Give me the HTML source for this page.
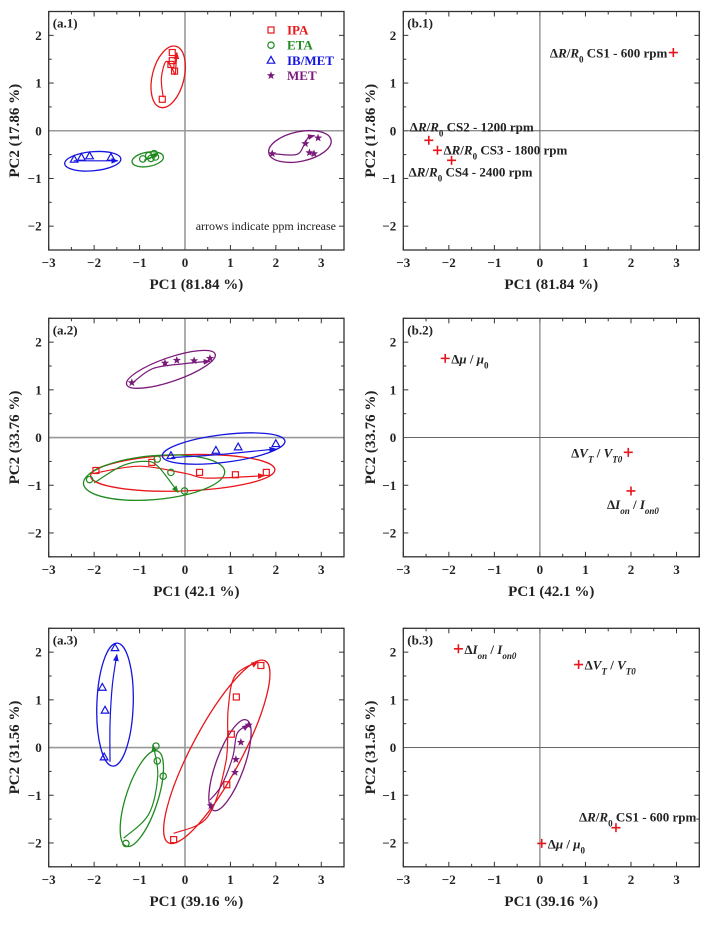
<!DOCTYPE html>
<html><head><meta charset="utf-8"><title>PCA panels</title>
<style>
html,body{margin:0;padding:0;background:#fff;}
svg, svg text{font-family:"Liberation Serif","Times New Roman",serif;}
.tick{font-family:"Liberation Serif",serif;font-size:13px;font-weight:bold;fill:#222;}
.ttl{font-family:"Liberation Serif",serif;font-size:15px;font-weight:bold;fill:#222;}
.lbl{font-family:"Liberation Serif",serif;font-size:13px;font-weight:bold;fill:#222;}
</style></head>
<body>
<svg id="chart" width="712" height="920" viewBox="0 0 712 920" xmlns="http://www.w3.org/2000/svg" font-family="Liberation Serif, serif">
<defs>
<marker id="ah-red" viewBox="0 0 10 10" refX="9" refY="5" markerWidth="6" markerHeight="6" orient="auto"><path d="M0,1 L10,5 L0,9 z" fill="#e8161b"/></marker>
<marker id="ah-green" viewBox="0 0 10 10" refX="9" refY="5" markerWidth="6" markerHeight="6" orient="auto"><path d="M0,1 L10,5 L0,9 z" fill="#1f8a1f"/></marker>
<marker id="ah-blue" viewBox="0 0 10 10" refX="9" refY="5" markerWidth="6" markerHeight="6" orient="auto"><path d="M0,1 L10,5 L0,9 z" fill="#1515e0"/></marker>
<marker id="ah-purple" viewBox="0 0 10 10" refX="9" refY="5" markerWidth="6" markerHeight="6" orient="auto"><path d="M0,1 L10,5 L0,9 z" fill="#7a1a7a"/></marker>
</defs>
</svg>
<script>
// ---------- data ----------
const xTicks = [-3,-2,-1,0,1,2,3];
const yTicks = [-2,-1,0,1,2];
const xTitles = ['PC1 (81.84 %)','PC1 (42.1 %)','PC1 (39.16 %)'];
const yTitles = ['PC2 (17.86 %)','PC2 (33.76 %)','PC2 (31.56 %)'];
const groups = ['IPA','ETA','IB/MET','MET'];

// a.1 scores
const a1_IPA_x = [-0.28,-0.28,-0.31,-0.23,-0.50];
const a1_IPA_y = [1.64,1.47,1.39,1.25,0.66];
const a1_ETA_x = [-0.93,-0.80,-0.75,-0.68,-0.65];
const a1_ETA_y = [-0.59,-0.52,-0.58,-0.48,-0.55];
const a1_IB_x = [-2.44,-2.28,-2.10,-1.63];
const a1_IB_y = [-0.60,-0.56,-0.53,-0.56];
const a1_MET_x = [1.92,2.65,2.93,2.74,2.84];
const a1_MET_y = [-0.48,-0.27,-0.15,-0.46,-0.48];
// a.2 scores
const a2_IPA_x = [-1.96,-0.73,0.32,1.11,1.79];
const a2_IPA_y = [-0.69,-0.52,-0.73,-0.78,-0.73];
const a2_ETA_x = [-2.10,-0.61,-0.31,-0.01];
const a2_ETA_y = [-0.88,-0.45,-0.73,-1.12];
const a2_IB_x = [-0.31,0.68,1.17,2.00];
const a2_IB_y = [-0.38,-0.27,-0.20,-0.13];
const a2_MET_x = [-1.17,-0.44,-0.18,0.20,0.55];
const a2_MET_y = [1.15,1.56,1.62,1.61,1.66];
// a.3 scores
const a3_IPA_x = [-0.25,0.92,1.02,1.13,1.67];
const a3_IPA_y = [-1.93,-0.78,0.28,1.06,1.72];
const a3_ETA_x = [-1.30,-0.64,-0.61,-0.48];
const a3_ETA_y = [-2.01,0.03,-0.28,-0.60];
const a3_IB_x = [-1.54,-1.82,-1.76,-1.78];
const a3_IB_y = [2.09,1.26,0.78,-0.20];
const a3_MET_x = [0.57,1.10,1.12,1.23,1.40];
const a3_MET_y = [-1.22,-0.52,-0.25,0.11,0.47];

// confidence ellipses [cx, cy, rx, ry, rotationDeg] per group IPA,ETA,IB,MET
const a1_ell = [[-0.37,1.13,0.35,0.66,14],[-0.82,-0.60,0.35,0.15,-10],[-2.03,-0.64,0.62,0.20,-5],[2.53,-0.33,0.70,0.31,-12]];
const a2_ell = [[-0.05,-0.74,2.03,0.38,-2],[-0.68,-0.84,1.56,0.46,-5],[0.85,-0.23,1.36,0.29,-7],[-0.31,1.43,1.03,0.25,-19]];
const a3_ell = [[0.70,-0.09,0.55,2.16,28],[-0.95,-1.07,0.35,1.05,18],[-1.54,0.90,0.40,1.29,2],[0.99,-0.37,0.31,1.01,20]];

// ppm-increase arrow paths (x list, y list) per group
const a1_arrX = [[-0.48,-0.52,-0.42,-0.28,-0.22,-0.20,-0.18],[-0.90,-0.75,-0.60],[-2.45,-1.95,-1.48],[1.92,2.45,2.62,2.72,2.85]];
const a1_arrY = [[0.70,1.10,1.45,1.30,1.18,1.35,1.64],[-0.62,-0.56,-0.47],[-0.63,-0.63,-0.63],[-0.48,-0.50,-0.30,-0.13,-0.10]];
const a2_arrX = [[-2.0,-1.0,0.0,0.5,1.75],[-2.0,-1.4,-0.9,-0.6,-0.15],[-0.30,0.70,2.0],[-1.15,-0.70,0.0,0.55]];
const a2_arrY = [[-0.75,-0.60,-0.75,-0.85,-0.80],[-0.95,-0.60,-0.50,-0.60,-1.15],[-0.42,-0.36,-0.24],[1.15,1.45,1.55,1.60]];
const a3_arrX = [[-0.25,0.50,0.90,0.95,1.10,1.60],[-1.35,-0.80,-0.60,-0.70],[-1.65,-1.65,-1.60,-1.50],[0.55,0.80,1.05,1.15,1.40]];
const a3_arrY = [[-1.80,-1.45,-0.30,0.80,1.50,1.80],[-1.90,-1.40,-0.60,0.05],[-0.30,0.50,1.30,1.95],[-1.10,-0.80,-0.20,0.30,0.48]];

// loadings
const b1_x = [2.93,-2.44,-2.25,-1.94];
const b1_y = [1.64,-0.20,-0.41,-0.62];
const b2_x = [-2.08,1.94,2.00];
const b2_y = [1.66,-0.31,-1.12];
const b3_x = [-1.79,0.85,1.67,0.04];
const b3_y = [2.07,1.74,-1.68,-2.01];
const RR = 'Δ<tspan font-style="italic">R</tspan>/<tspan font-style="italic">R</tspan><tspan baseline-shift="sub" font-size="9">0</tspan>';
const MU = 'Δ<tspan font-style="italic">μ</tspan> / <tspan font-style="italic">μ</tspan><tspan baseline-shift="sub" font-size="9">0</tspan>';
const VT = 'Δ<tspan font-style="italic">V</tspan><tspan baseline-shift="sub" font-size="9" font-style="italic">T</tspan> / <tspan font-style="italic">V</tspan><tspan baseline-shift="sub" font-size="9" font-style="italic">T0</tspan>';
const ION = 'Δ<tspan font-style="italic">I</tspan><tspan baseline-shift="sub" font-size="9" font-style="italic">on</tspan> / <tspan font-style="italic">I</tspan><tspan baseline-shift="sub" font-size="9" font-style="italic">on0</tspan>';
const b1_lab = [RR+' CS1 - 600 rpm', RR+' CS2 - 1200 rpm', RR+' CS3 - 1800 rpm', RR+' CS4 - 2400 rpm'];
const b2_lab = [MU, VT, ION];
const b3_lab = [ION, VT, RR+' CS1 - 600 rpm', MU];
// label placement [dx, dy, anchor]
const b1_pos = [[-6,5,'end'],[-19,-9,'start'],[6,4,'start'],[-43,16,'start']];
const b2_pos = [[6,5,'start'],[-6,5,'end'],[-24,18,'start']];
const b3_pos = [[6,5,'start'],[6,5,'start'],[-37,-6,'start'],[6,5,'start']];

// ---------- drawing ----------
const svg = document.getElementById('chart');
const NS = 'http://www.w3.org/2000/svg';
const COLORS = ['#e8161b','#1f8a1f','#1515e0','#7a1a7a'];
const AH = ['ah-red','ah-green','ah-blue','ah-purple'];
function el(tag, attrs, name, parent){
  const e = document.createElementNS(NS, tag);
  for (const k in attrs) e.setAttribute(k, attrs[k]);
  if (tag==='text') e.setAttribute('font-family', 'Liberation Serif, serif');
  
  
  (parent||svg).appendChild(e);
  return e;
}
function makeAxes(x0,y0,w,h){
  return {X:v=>x0+(v+3)/6.5*w, Y:v=>y0+(2.5-v)/5*h, x0,y0,w,h, sx:w/6.5, sy:h/5};
}
function frame(ax, tag, xt, yt, zeroCol, zeroW, ytx){
  const g = el('g',{},'panel-'+tag);
  for (let v=-3; v<=3.5; v+=0.5){
    const major = Number.isInteger(v); const L = major?5:3; const x=ax.X(v);
    el('line',{x1:x,x2:x,y1:ax.y0+ax.h,y2:ax.y0+ax.h-L,stroke:'#333','stroke-width':1},'x-tick',g);
    el('line',{x1:x,x2:x,y1:ax.y0,y2:ax.y0+L,stroke:'#333','stroke-width':1},'x-tick-top',g);
  }
  for (let v=-2.5; v<=2.5; v+=0.5){
    const major = Number.isInteger(v); const L = major?5:3; const y=ax.Y(v);
    el('line',{x1:ax.x0,x2:ax.x0+L,y1:y,y2:y,stroke:'#333','stroke-width':1},'y-tick',g);
    el('line',{x1:ax.x0+ax.w,x2:ax.x0+ax.w-L,y1:y,y2:y,stroke:'#333','stroke-width':1},'y-tick-right',g);
  }
  xTicks.forEach(v=>{
    const t = el('text',{x:ax.X(v),y:ax.y0+ax.h+17,'text-anchor':'middle',class:'tick'},'x-tick-label',g);
    t.textContent = v<0?'−'+(-v):String(v);
  });
  yTicks.forEach(v=>{
    const t = el('text',{x:ax.x0-7,y:ax.Y(v)+4.5,'text-anchor':'end',class:'tick'},'y-tick-label',g);
    t.textContent = v<0?'−'+(-v):String(v);
  });
  el('line',{x1:ax.X(0),x2:ax.X(0),y1:ax.y0,y2:ax.y0+ax.h,stroke:zeroCol,'stroke-width':zeroW},'zero-line-x',g);
  el('line',{x1:ax.x0,x2:ax.x0+ax.w,y1:ax.Y(0),y2:ax.Y(0),stroke:zeroCol,'stroke-width':zeroW},'zero-line-y',g);
  el('rect',{x:ax.x0,y:ax.y0,width:ax.w,height:ax.h,fill:'none',stroke:'#333','stroke-width':1.3},'plot-frame',g);
  const xt_ = el('text',{x:ax.x0+ax.w/2,y:ax.y0+ax.h+39,'text-anchor':'middle',class:'ttl'},'x-axis-title',g);
  xt_.textContent = xt;
  const cy = ax.y0+ax.h/2;
  const yt_ = el('text',{x:ytx,y:cy,'text-anchor':'middle',class:'ttl',transform:'rotate(-90 '+ytx+' '+cy+')','dominant-baseline':'central'},'y-axis-title',g);
  yt_.textContent = yt;
  const pl = el('text',{x:ax.x0+4,y:ax.y0+16,class:'lbl'},'panel-label',g);
  pl.textContent = '('+tag+')';
  return g;
}
function marker(g, gi, px, py){
  const c = COLORS[gi];
  if (gi===0) el('rect',{x:px-3,y:py-3,width:6,height:6,fill:'none',stroke:c,'stroke-width':1.2},'marker-ipa',g);
  else if (gi===1) el('circle',{cx:px,cy:py,r:3.2,fill:'none',stroke:c,'stroke-width':1.2},'marker-eta',g);
  else if (gi===2) el('path',{d:`M${px},${py-4} L${px+3.8},${py+2.8} L${px-3.8},${py+2.8} Z`,fill:'none',stroke:c,'stroke-width':1.2},'marker-ibmet',g);
  else {
    let d=''; for(let k=0;k<10;k++){const r=k%2?1.8:4.3; const a=-Math.PI/2+k*Math.PI/5; d+=(k?'L':'M')+(px+r*Math.cos(a)).toFixed(2)+','+(py+r*Math.sin(a)).toFixed(2);} 
    el('path',{d:d+'Z',fill:c,stroke:'none'},'marker-met',g);
  }
}
function smooth(pts){
  let d = `M${pts[0][0]},${pts[0][1]}`;
  for (let i=0;i<pts.length-1;i++){
    const p0=pts[Math.max(0,i-1)], p1=pts[i], p2=pts[i+1], p3=pts[Math.min(pts.length-1,i+2)];
    const c1=[p1[0]+(p2[0]-p0[0])/6, p1[1]+(p2[1]-p0[1])/6];
    const c2=[p2[0]-(p3[0]-p1[0])/6, p2[1]-(p3[1]-p1[1])/6];
    d += ` C${c1[0]},${c1[1]} ${c2[0]},${c2[1]} ${p2[0]},${p2[1]}`;
  }
  return d;
}
function scorePanel(ax, tag, xs, ys, ells, arrX, arrY){
  const g = el('g',{},'scores-'+tag);
  ells.forEach((e,gi)=>{
    const cx=ax.X(e[0]), cy=ax.Y(e[1]);
    el('ellipse',{cx:cx,cy:cy,rx:e[2]*ax.sx,ry:e[3]*ax.sy,transform:`rotate(${e[4]} ${cx} ${cy})`,fill:'none',stroke:COLORS[gi],'stroke-width':1.3},'confidence-ellipse-'+groups[gi].toLowerCase().replace('/',''),g);
  });
  arrX.forEach((xsA,gi)=>{
    const pts = xsA.map((v,i)=>[ax.X(v),ax.Y(arrY[gi][i])]);
    el('path',{d:smooth(pts),fill:'none',stroke:COLORS[gi],'stroke-width':1.2,'marker-end':`url(#${AH[gi]})`},'ppm-arrow-'+groups[gi].toLowerCase().replace('/',''),g);
  });
  xs.forEach((arr,gi)=>{
    arr.forEach((v,i)=>marker(g,gi,ax.X(v),ax.Y(ys[gi][i])));
  });
}
function loadPanel(ax, tag, xs, ys, labs, pos){
  const g = el('g',{},'loadings-'+tag);
  xs.forEach((v,i)=>{
    const px=ax.X(v), py=ax.Y(ys[i]);
    el('path',{d:`M${px-4.5},${py} H${px+4.5} M${px},${py-4.5} V${py+4.5}`,stroke:'#e8161b','stroke-width':1.6,fill:'none'},'loading-point',g);
    const t = el('text',{x:px+pos[i][0],y:py+pos[i][1],'text-anchor':pos[i][2],class:'lbl'},'loading-label',g);
    t.innerHTML = labs[i];
  });
}
const rows=[11.5,318.3,628.3], H=238.5;
const A=[], B=[];
rows.forEach((y0,r)=>{
  A.push(makeAxes(48.7,y0,295.3,H));
  B.push(makeAxes(403.3,y0,296,H));
  frame(A[r],'a.'+(r+1),xTitles[r],yTitles[r],'#999',1.6,15);
  frame(B[r],'b.'+(r+1),xTitles[r],yTitles[r],'#666',1,371);
});
scorePanel(A[0],'a.1',[a1_IPA_x,a1_ETA_x,a1_IB_x,a1_MET_x],[a1_IPA_y,a1_ETA_y,a1_IB_y,a1_MET_y],a1_ell,a1_arrX,a1_arrY);
scorePanel(A[1],'a.2',[a2_IPA_x,a2_ETA_x,a2_IB_x,a2_MET_x],[a2_IPA_y,a2_ETA_y,a2_IB_y,a2_MET_y],a2_ell,a2_arrX,a2_arrY);
scorePanel(A[2],'a.3',[a3_IPA_x,a3_ETA_x,a3_IB_x,a3_MET_x],[a3_IPA_y,a3_ETA_y,a3_IB_y,a3_MET_y],a3_ell,a3_arrX,a3_arrY);
loadPanel(B[0],'b.1',b1_x,b1_y,b1_lab,b1_pos);
loadPanel(B[1],'b.2',b2_x,b2_y,b2_lab,b2_pos);
loadPanel(B[2],'b.3',b3_x,b3_y,b3_lab,b3_pos);
// legend
const lg = el('g',{},'legend');
groups.forEach((n,i)=>{
  const y = 30+i*15.2;
  marker(lg,i,271,y);
  const t = el('text',{x:287,y:y+4.5,class:'lbl',fill:COLORS[i],style:'fill:'+COLORS[i]},'legend-entry-'+n.toLowerCase().replace('/',''),lg);
  t.textContent = n;
});
const note = el('text',{x:336,y:230,'text-anchor':'end','font-size':'12',fill:'#222'},'arrows-note');
note.textContent = 'arrows indicate ppm increase';
</script>
</body></html>
